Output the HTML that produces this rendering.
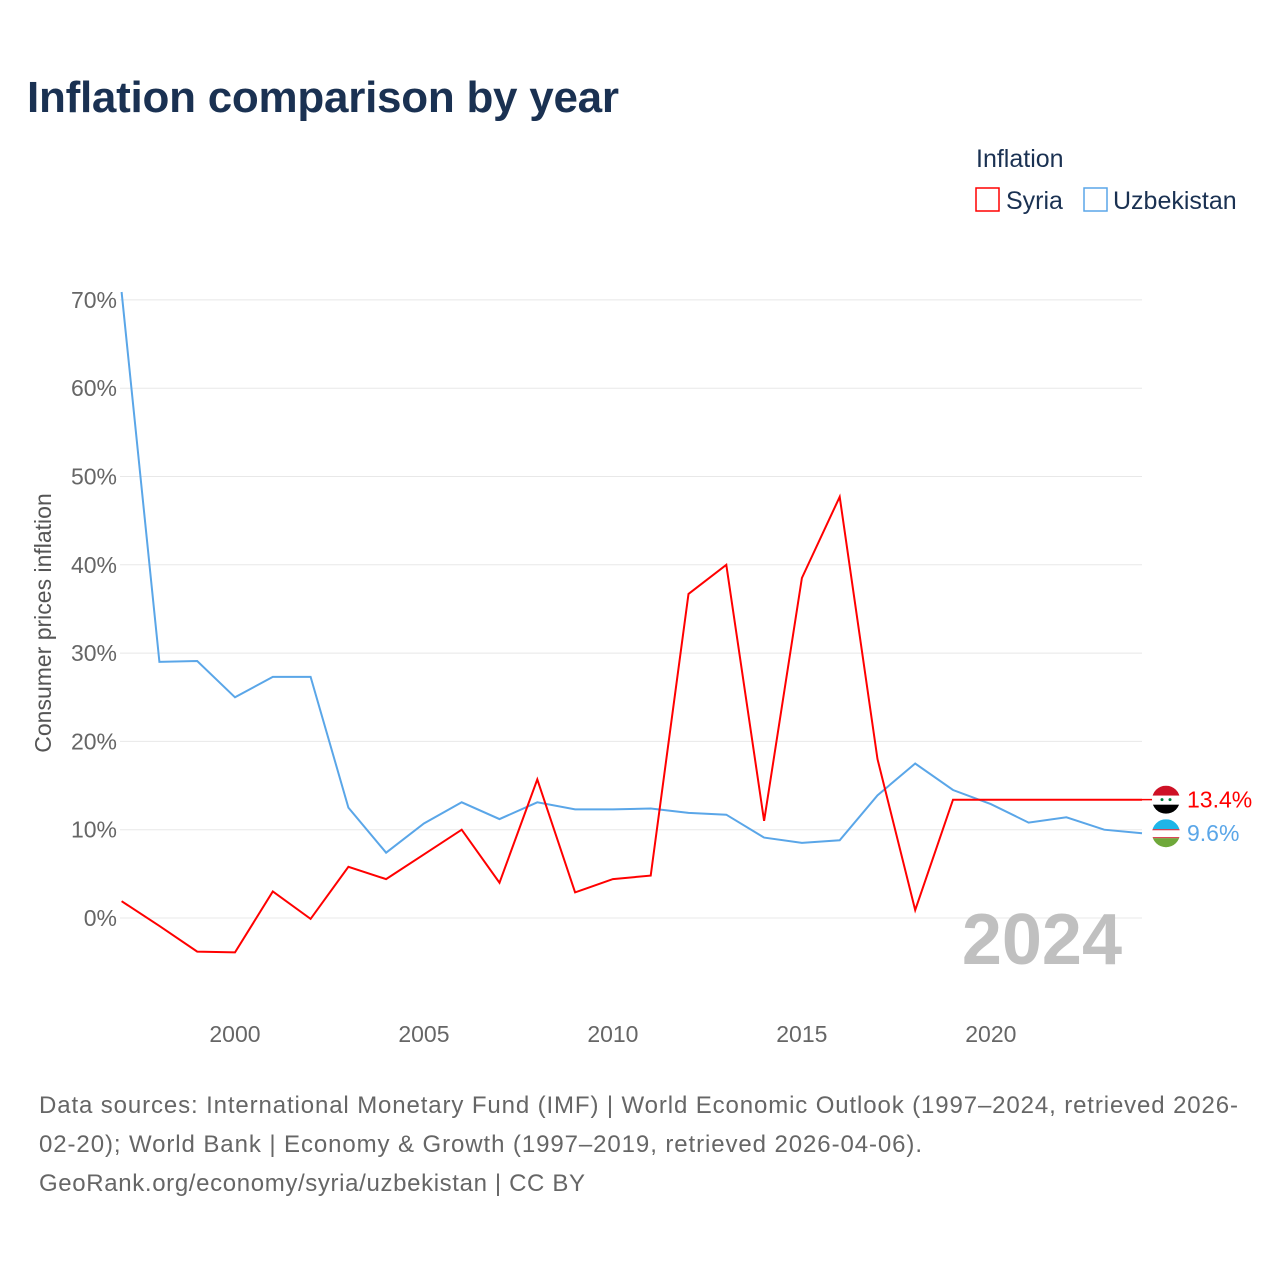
<!DOCTYPE html>
<html><head><meta charset="utf-8">
<style>
body{margin:0;background:#fff;font-family:"Liberation Sans",sans-serif;}
#wrap{position:relative;width:1280px;height:1280px;overflow:hidden;}
</style></head>
<body>
<div id="wrap">
<svg id="chart" width="1280" height="1280">
<text x="27" y="112" font-size="44" font-weight="bold" fill="#1a3152" textLength="592">Inflation comparison by year</text>
<text x="976" y="167" font-size="25" fill="#1a3152">Inflation</text>
<g><rect x="976" y="188" width="23" height="23" fill="none" stroke="#ff0000" stroke-width="1.5"/><text x="1006" y="209" font-size="25" fill="#1a3152">Syria</text></g>
<g><rect x="1084" y="188" width="23" height="23" fill="none" stroke="#5aa6e8" stroke-width="1.5"/><text x="1113" y="209" font-size="25" fill="#1a3152">Uzbekistan</text></g>
<g id="grid"></g>
<text x="1122" y="964" font-size="72" font-weight="bold" fill="#c0c0c0" text-anchor="end">2024</text>
<text transform="translate(51,623) rotate(-90)" font-size="23" fill="#555" text-anchor="middle">Consumer prices inflation</text>
<g id="series"></g>
<g font-size="24" fill="#666">
<text x="39" y="1113" textLength="1199">Data sources: International Monetary Fund (IMF) | World Economic Outlook (1997–2024, retrieved 2026-</text>
<text x="39" y="1152" textLength="883">02-20); World Bank | Economy &amp; Growth (1997–2019, retrieved 2026-04-06).</text>
<text x="39" y="1191" textLength="546">GeoRank.org/economy/syria/uzbekistan | CC BY</text>
</g>
</svg>
</div>
<script>
const years=[1997,1998,1999,2000,2001,2002,2003,2004,2005,2006,2007,2008,2009,2010,2011,2012,2013,2014,2015,2016,2017,2018,2019,2020,2021,2022,2023,2024];
const syria=[1.9,-0.9,-3.8,-3.9,3.0,-0.1,5.8,4.4,7.2,10.0,4.0,15.7,2.9,4.4,4.8,36.7,40.0,11.0,38.5,47.7,18.0,0.9,13.4,13.4,13.4,13.4,13.4,13.4];
const uzbekistan=[70.9,29.0,29.1,25.0,27.3,27.3,12.5,7.4,10.7,13.1,11.2,13.1,12.3,12.3,12.4,11.9,11.7,9.1,8.5,8.8,13.9,17.5,14.5,12.9,10.8,11.4,10.0,9.6];
const yTicks=[0,10,20,30,40,50,60,70];
const xTicks=[2000,2005,2010,2015,2020];
const NS="http://www.w3.org/2000/svg";
function xs(y){return 121.6+(y-1997)*(1142-121.6)/27;}
function ys(v){return 918-v*8.83;}
function mk(t,a,p){const e=document.createElementNS(NS,t);for(const k in a)e.setAttribute(k,a[k]);p.appendChild(e);return e;}
const grid=document.getElementById('grid');
yTicks.forEach(v=>{
  const l=mk('line',{x1:120,x2:1142,y1:ys(v),y2:ys(v),stroke:'#e8e8e8','stroke-width':1},grid);
  
  
  const t=mk('text',{x:117,y:ys(v)+8,'font-size':23,fill:'#666','text-anchor':'end'},grid);
  t.textContent=v+'%';
  
  
});
xTicks.forEach(y=>{
  const t=mk('text',{x:xs(y),y:1042,'font-size':23,fill:'#666','text-anchor':'middle'},grid);
  t.textContent=y;
  
  
});
const S=document.getElementById('series');
function line(vals,col,name){
  const d=vals.map((v,i)=>(i?'L':'M')+xs(years[i]).toFixed(1)+','+ys(v).toFixed(1)).join('');
  const p=mk('path',{d:d,fill:'none',stroke:col,'stroke-width':2,'stroke-linejoin':'miter'},S);
  
  
}
line(uzbekistan,'#5aa6e8','uzbekistan-line');
line(syria,'#ff0000','syria-line');
const ls=syria[syria.length-1], lu=uzbekistan[uzbekistan.length-1];
const ex=1166;
const c1=mk('line',{x1:xs(2024),x2:ex,y1:ys(ls),y2:ys(ls),stroke:'#ff0000','stroke-width':1.5},S);


const fs=mk('g',{},S);


const cy1=ys(ls);
mk('clipPath',{id:'c1'},fs);
mk('circle',{cx:ex,cy:cy1,r:14},fs.lastChild);
const g1=mk('g',{'clip-path':'url(#c1)'},fs);
mk('rect',{x:ex-14,y:cy1-14,width:28,height:10,fill:'#ce1126'},g1);
mk('rect',{x:ex-14,y:cy1-4,width:28,height:9,fill:'#fff'},g1);
mk('rect',{x:ex-14,y:cy1+5,width:28,height:10,fill:'#000'},g1);
mk('circle',{cx:ex-4,cy:cy1,r:1.5,fill:'#007a3d'},g1);
mk('circle',{cx:ex+4,cy:cy1,r:1.5,fill:'#007a3d'},g1);
const fu=mk('g',{},S);


const cy2=ys(lu);
mk('clipPath',{id:'c2'},fu);
mk('circle',{cx:ex,cy:cy2,r:14},fu.lastChild);
const g2=mk('g',{'clip-path':'url(#c2)'},fu);
mk('rect',{x:ex-14,y:cy2-14,width:28,height:10,fill:'#1eb5e8'},g2);
mk('rect',{x:ex-14,y:cy2-4,width:28,height:9,fill:'#fff'},g2);
mk('rect',{x:ex-14,y:cy2-4,width:28,height:1,fill:'#ce1126'},g2);
mk('rect',{x:ex-14,y:cy2+4,width:28,height:1,fill:'#ce1126'},g2);
mk('rect',{x:ex-14,y:cy2+5,width:28,height:10,fill:'#6fa83a'},g2);
const t1=mk('text',{x:1187,y:cy1+8,'font-size':23,fill:'#ff0000'},S);
t1.textContent=ls.toFixed(1)+'%';


const t2=mk('text',{x:1187,y:cy2+8,'font-size':23,fill:'#5aa6e8'},S);
t2.textContent=lu.toFixed(1)+'%';


</script>
</body></html>
